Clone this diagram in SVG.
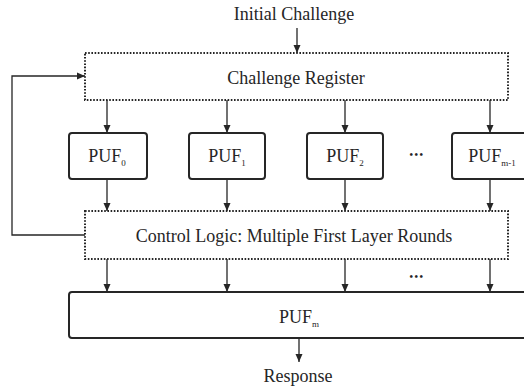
<svg xmlns="http://www.w3.org/2000/svg" width="524" height="388" viewBox="0 0 524 388">
<style>
text{font-family:'Liberation Serif','Times New Roman',Times,serif;font-size:18px;fill:#262626;text-anchor:middle}
.sub{font-size:9px}
.box{fill:#fff;stroke:#262626;stroke-width:2}
.dot{fill:#fff;stroke:#262626;stroke-width:2;stroke-dasharray:1.6 1.6}
.ln{fill:none;stroke:#262626;stroke-width:1.3;marker-end:url(#ah)}
.dots{font-size:10px;letter-spacing:1.5px;font-weight:bold}
</style>
<defs>
<marker id="ah" markerUnits="userSpaceOnUse" markerWidth="9" markerHeight="8" refX="8.5" refY="3.75" orient="auto">
<path d="M0,0 L8.5,3.75 L0,7.5 z" fill="#262626"/>
</marker>
</defs>
<g id="connectors">
<path class="ln" d="M297,28 V53"/>
<path class="ln" d="M85,235 H12 V76 H85"/>
<path class="ln" d="M107,100 V133"/>
<path class="ln" d="M227,100 V133"/>
<path class="ln" d="M345,100 V133"/>
<path class="ln" d="M490,100 V133"/>
<path class="ln" d="M107,179 V211"/>
<path class="ln" d="M227,179 V211"/>
<path class="ln" d="M345,179 V211"/>
<path class="ln" d="M490,179 V211"/>
<path class="ln" d="M107,259 V292"/>
<path class="ln" d="M227,259 V292"/>
<path class="ln" d="M345,259 V292"/>
<path class="ln" d="M490,259 V292"/>
<path class="ln" d="M299,338 V362"/>
</g>
<g font-family="Liberation Serif, serif">
<g id="initial"><text x="294" y="20">Initial Challenge</text></g>
<g id="register">
<rect class="dot" x="85" y="53" width="423" height="47"/>
<text x="296" y="84">Challenge Register</text>
</g>
<g id="puf0"><rect class="box" x="69" y="133" width="78" height="46" rx="3"/><text x="107" y="162">PUF<tspan class="sub" dy="4">0</tspan></text></g>
<g id="puf1"><rect class="box" x="189" y="133" width="76" height="46" rx="3"/><text x="227" y="162">PUF<tspan class="sub" dy="4">1</tspan></text></g>
<g id="puf2"><rect class="box" x="307" y="133" width="76" height="46" rx="3"/><text x="345" y="162">PUF<tspan class="sub" dy="4">2</tspan></text></g>
<g id="dots1"><text class="dots" x="417" y="158">•••</text></g>
<g id="pufm1"><rect class="box" x="452" y="133" width="78" height="46" rx="3"/><text x="492" y="162">PUF<tspan class="sub" dy="4">m-1</tspan></text></g>
<g id="control">
<rect class="dot" x="85" y="211" width="423" height="48"/>
<text x="294" y="241.5">Control Logic: Multiple First Layer Rounds</text>
</g>
<g id="dots2"><text class="dots" x="417" y="280">•••</text></g>
<g id="pufm"><rect class="box" x="69" y="292" width="470" height="46" rx="3"/><text x="299" y="323">PUF<tspan class="sub" dy="4">m</tspan></text></g>
<g id="response"><text x="298" y="382">Response</text></g>
</g>
</svg>
